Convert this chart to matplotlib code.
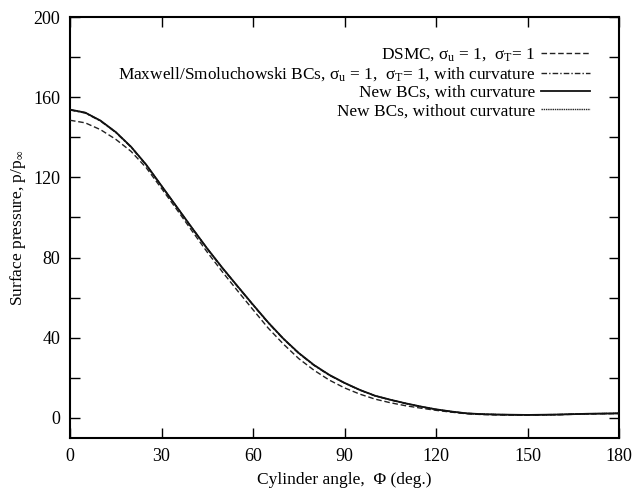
import matplotlib
matplotlib.use("Agg")
import matplotlib.pyplot as plt
import numpy as np

plt.rcParams['font.family'] = ['Liberation Serif', 'DejaVu Serif']
plt.rcParams['mathtext.fontset'] = 'custom'
plt.rcParams['mathtext.rm'] = 'Liberation Serif'
plt.rcParams['mathtext.it'] = 'Liberation Serif:italic'

# values (every 5 deg)
angle = list(range(0, 181, 5))
dsmc = [148.5, 147.2, 143.8, 139.0, 133.0, 124.8, 114.5, 104.0, 93.3, 82.7, 72.8, 63.3, 54.0,
        44.8, 36.8, 29.6, 23.8, 18.9, 15.0, 11.9, 9.4, 7.6, 6.1, 4.9, 3.8, 2.9, 2.1, 1.7,
        1.5, 1.4, 1.4, 1.5, 1.6, 1.8, 2.0, 2.1, 2.2]
new_curv = [153.8, 152.3, 148.3, 142.6, 135.3, 126.3, 115.8, 105.3, 94.8, 84.5, 74.8, 65.6, 56.5,
            47.6, 39.5, 32.4, 26.4, 21.5, 17.5, 14.0, 11.1, 9.1, 7.3, 5.7, 4.3, 3.2, 2.3, 1.9,
            1.7, 1.6, 1.5, 1.6, 1.7, 1.9, 2.1, 2.2, 2.3]
maxwell = [153.6, 152.1, 148.1, 142.4, 135.1, 126.1, 115.6, 105.1, 94.6, 84.3, 74.6, 65.4, 56.3,
           47.4, 39.3, 32.2, 26.2, 21.3, 17.4, 13.9, 11.0, 9.0, 7.2, 5.6, 4.2, 3.1, 2.3, 1.9,
           1.7, 1.6, 1.5, 1.6, 1.7, 1.9, 2.1, 2.2, 2.3]
new_nocurv = [153.8, 152.3, 148.3, 142.6, 135.3, 126.3, 115.8, 105.3, 94.8, 84.5, 74.8, 65.6, 56.5,
              47.6, 39.5, 32.4, 26.4, 21.5, 17.5, 14.0, 11.1, 9.1, 7.3, 5.7, 4.3, 3.2, 2.3, 1.9,
              1.7, 1.6, 1.5, 1.6, 1.7, 1.9, 2.1, 2.2, 2.3]

labels = [
    'DSMC, σ$_{\\mathrm{u}}$ = 1,  σ$_{\\mathrm{T}}$= 1',
    'Maxwell/Smoluchowski BCs, σ$_{\\mathrm{u}}$ = 1,  σ$_{\\mathrm{T}}$= 1, with curvature',
    'New BCs, with curvature',
    'New BCs, without curvature',
]

fig = plt.figure(figsize=(6.32, 4.91), dpi=100)
ax = fig.add_axes([70/632, 1 - 438/491, 549/632, 421/491])

l1, = ax.plot(angle, dsmc, color='#222222', ls=(0, (4, 2)), lw=1.0, zorder=3)
l2, = ax.plot(angle, maxwell, color='#222222', ls=(0, (4, 1.5, 1, 1.5)), lw=1.0, zorder=2)
l4, = ax.plot(angle, new_nocurv, color='#222222', ls=(0, (1, 0.6)), lw=1.0, zorder=2)
l3, = ax.plot(angle, new_curv, color='#111111', ls='-', lw=1.3, zorder=4)

ax.set_xlim(0, 180)
ax.set_ylim(-10, 200)
ax.set_xticks(np.arange(0, 181, 30))
ax.set_yticks(np.arange(0, 201, 40))
ax.set_yticks(np.arange(20, 200, 40), minor=True)
ax.tick_params(which='both', direction='in', top=True, right=True, length=7, width=1.0,
               labelsize=13, pad=7)
for s in ax.spines.values():
    s.set_linewidth(1.5)

ax.set_xlabel('Cylinder angle,  Φ (deg.)', fontsize=12.5, labelpad=5)
ax.set_ylabel('Surface pressure, p/p$_{\\infty}$', fontsize=12.5, labelpad=4)

ax.legend([l1, l2, l3, l4], labels, loc='upper right', frameon=False, markerfirst=False,
          fontsize=12.4, handlelength=2.8, labelspacing=0.12, borderaxespad=1.3,
          borderpad=0.4, handletextpad=0.35)

fig.savefig('out.png', dpi=100)
